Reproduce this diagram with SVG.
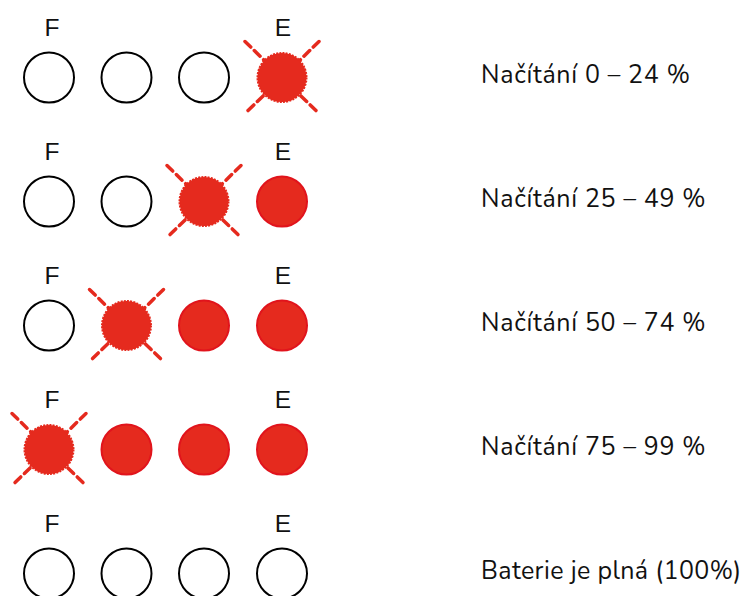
<svg xmlns="http://www.w3.org/2000/svg" width="749" height="596" viewBox="0 0 749 596">
<style>
.lbl{font-family:"Liberation Sans",Arial,sans-serif;font-size:24.5px;fill:#111;text-anchor:middle}
.txt{font-family:"Nunito","Lato","Open Sans",sans-serif;font-size:25px;letter-spacing:0.7px;fill:#111}
.off{fill:#fff;stroke:#000;stroke-width:2}
.on{fill:#e52a1e;stroke:#e1141c;stroke-width:2}
.blink{fill:#e52a1e;stroke:#e52a1e;stroke-width:2;stroke-dasharray:2 1.2}
.ray{stroke:#e52a1e;stroke-width:3.5;stroke-dasharray:8 5;stroke-linecap:round}
</style>
<defs>
<g id="blinker">
<line class="ray" x1="-37" y1="-36" x2="37" y2="36"/>
<line class="ray" x1="37" y1="-36" x2="-37" y2="36"/>
<circle class="blink" r="24.5"/>
</g>
</defs>
<g id="row1" transform="translate(0,77.5)">
<text class="lbl" x="52" y="-41.5">F</text>
<text class="lbl" x="283" y="-41.5">E</text>
<circle class="off" cx="49" cy="0" r="25"/>
<circle class="off" cx="126.5" cy="0" r="25"/>
<circle class="off" cx="204" cy="0" r="25"/>
<use href="#blinker" x="282" y="0"/>
<text class="txt" x="481" y="5">Načítání 0 – 24 %</text>
</g>
<g id="row2" transform="translate(0,201.5)">
<text class="lbl" x="52" y="-41.5">F</text>
<text class="lbl" x="283" y="-41.5">E</text>
<circle class="off" cx="49" cy="0" r="25"/>
<circle class="off" cx="126.5" cy="0" r="25"/>
<use href="#blinker" x="204" y="0"/>
<circle class="on" cx="282" cy="0" r="25"/>
<text class="txt" x="481" y="5">Načítání 25 – 49 %</text>
</g>
<g id="row3" transform="translate(0,325.5)">
<text class="lbl" x="52" y="-41.5">F</text>
<text class="lbl" x="283" y="-41.5">E</text>
<circle class="off" cx="49" cy="0" r="25"/>
<use href="#blinker" x="126.5" y="0"/>
<circle class="on" cx="204" cy="0" r="25"/>
<circle class="on" cx="282" cy="0" r="25"/>
<text class="txt" x="481" y="5">Načítání 50 – 74 %</text>
</g>
<g id="row4" transform="translate(0,449.5)">
<text class="lbl" x="52" y="-41.5">F</text>
<text class="lbl" x="283" y="-41.5">E</text>
<use href="#blinker" x="49" y="0"/>
<circle class="on" cx="126.5" cy="0" r="25"/>
<circle class="on" cx="204" cy="0" r="25"/>
<circle class="on" cx="282" cy="0" r="25"/>
<text class="txt" x="481" y="5">Načítání 75 – 99 %</text>
</g>
<g id="row5" transform="translate(0,573.5)">
<text class="lbl" x="52" y="-41.5">F</text>
<text class="lbl" x="283" y="-41.5">E</text>
<circle class="off" cx="49" cy="0" r="25"/>
<circle class="off" cx="126.5" cy="0" r="25"/>
<circle class="off" cx="204" cy="0" r="25"/>
<circle class="off" cx="282" cy="0" r="25"/>
<text class="txt" x="481" y="5" textLength="261" lengthAdjust="spacing">Baterie je plná (100%)</text>
</g>
<g id="connectors"/>
</svg>
